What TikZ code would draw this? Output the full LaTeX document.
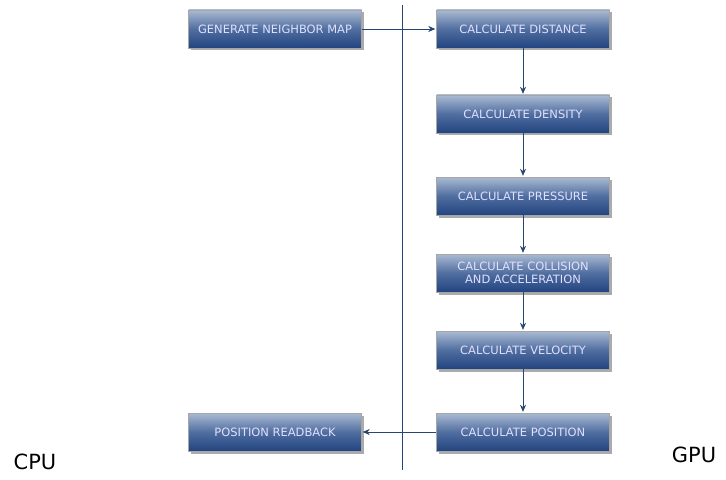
\documentclass[tikz,border=0pt]{standalone}
\usepackage{fontspec}
\setmainfont{DejaVu Sans}
\usepackage{tikz}
\usetikzlibrary{arrows,arrows.meta,positioning,shadows}
\definecolor{boxtop}{RGB}{170,186,210}
\definecolor{boxmid}{RGB}{80,110,160}
\definecolor{boxbot}{RGB}{34,68,128}
\definecolor{linecol}{RGB}{40,70,115}

\begin{document}
\begin{tikzpicture}[x=1bp,y=-1bp,>={Stealth[length=7bp,width=6bp]},node distance=82bp,on grid,
    stage/.style={rectangle,draw=gray!70,line width=0.4bp,minimum width=173bp,minimum height=38bp,
      top color=boxtop,bottom color=boxbot,middle color=boxmid,text=white!88!blue,
      font=\fontsize{11.5}{13}\selectfont,align=center,inner sep=1bp,
      drop shadow={shadow xshift=2.5bp,shadow yshift=-2.5bp,opacity=0.55,fill=gray!80!black}},
    flow/.style={->,draw=linecol,line width=0.6bp,shorten >=1bp}]
  \useasboundingbox (0,0) rectangle (726,480);

  \node[stage]          (dist)                     at (523,29) {CALCULATE DISTANCE};
  \node[stage]          (dens) [below=85bp of dist] {CALCULATE DENSITY};
  \node[stage]          (pres) [below=of dens]     {CALCULATE PRESSURE};
  \node[stage]          (coll) [below=77bp of pres] {CALCULATE COLLISION\\AND ACCELERATION};
  \node[stage]          (velo) [below=77bp of coll] {CALCULATE VELOCITY};
  \node[stage]          (posi) [below=of velo]     {CALCULATE POSITION};

  \node[stage]          (nmap)                     at (275,29) {GENERATE NEIGHBOR MAP};
  \node[stage]          (read) [left=248bp of posi] {POSITION READBACK};

  % divider between host and device
  \coordinate (divtop) at (402,5);
  \coordinate (divbot) at (402,470);
  \draw[linecol,line width=0.6bp] (divtop) -- (divbot);

  \node (cpu) at (35,462) {\fontsize{21}{24}\selectfont CPU};
  \node (gpu) at (694,455) {\fontsize{21}{24}\selectfont GPU};

  \path (nmap) edge [flow] (dist)
        (dist) edge [flow] (dens)
        (dens) edge [flow] (pres)
        (pres) edge [flow] (coll)
        (coll) edge [flow] (velo)
        (velo) edge [flow] (posi)
        (posi) edge [flow] (read);
\end{tikzpicture}
\end{document}
